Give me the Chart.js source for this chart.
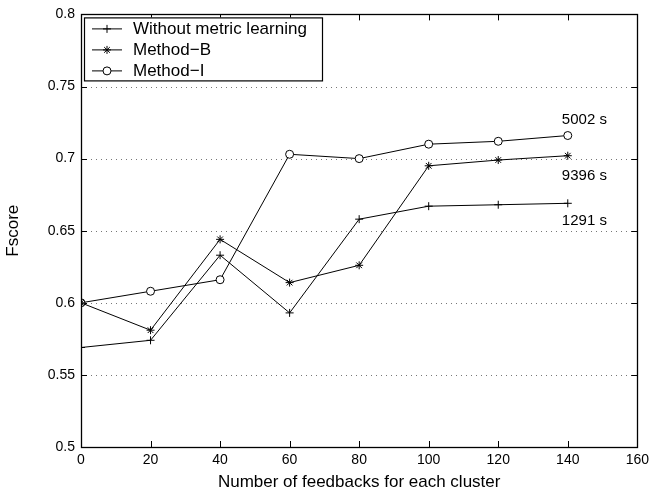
<!DOCTYPE html>
<html>
<head>
<meta charset="utf-8">
<script src="https://cdn.jsdelivr.net/npm/chart.js@4"></script>
<style>
  html, body { margin: 0; padding: 0; background: #fff; }
  #wrap { width: 654px; height: 501px; position: relative; }
</style>
</head>
<body>
<div id="wrap"><canvas id="fscore_chart" width="654" height="501"></canvas></div>
<script>
const feedbacks = [0, 20, 40, 60, 80, 100, 120, 140];
const without_metric = [0.569, 0.574, 0.633, 0.593, 0.658, 0.667, 0.668, 0.669];
const method_b = [0.600, 0.581, 0.644, 0.614, 0.626, 0.695, 0.699, 0.702];
const method_i = [0.600, 0.608, 0.616, 0.703, 0.700, 0.710, 0.712, 0.716];
const x_ticks = [0, 20, 40, 60, 80, 100, 120, 140, 160];
const y_ticks = [0.5, 0.55, 0.6, 0.65, 0.7, 0.75, 0.8];
const time_labels = ["5002 s", "9396 s", "1291 s"];
const time_pos = [[138.3, 0.727], [138.3, 0.688], [138.3, 0.657]];

const FONT = "'Liberation Sans', Arial, sans-serif";

function toPoints(ys) {
  return feedbacks.map((x, i) => ({ x: x, y: ys[i] }));
}

const series = [
  { label: "Without metric learning", data: without_metric, style: "cross", r: 4, fill: "#000" },
  { label: "Method\u2212B", data: method_b, style: "star", r: 4, fill: "#000" },
  { label: "Method\u2212I", data: method_i, style: "circle", r: 4, fill: "#fff" },
];

const frame_plugin = {
  id: "frame",
  beforeDatasetsDraw(chart) {
    const ctx = chart.ctx;
    const a = chart.chartArea;
    const xs = chart.scales.x, ys = chart.scales.y;
    ctx.save();
    // dotted horizontal grid
    ctx.strokeStyle = "#777";
    ctx.lineWidth = 1;
    ctx.setLineDash([1, 4]);
    y_ticks.forEach(v => {
      if (v <= 0.5 || v >= 0.8) return;
      const py = Math.round(ys.getPixelForValue(v)) + 0.5;
      ctx.beginPath();
      ctx.moveTo(a.left, py);
      ctx.lineTo(a.right, py);
      ctx.stroke();
    });
    ctx.setLineDash([]);
    ctx.strokeStyle = "#000";
    // inward ticks
    const tl = 6;
    x_ticks.forEach(v => {
      const px = Math.round(xs.getPixelForValue(v)) + 0.5;
      ctx.beginPath();
      ctx.moveTo(px, a.bottom); ctx.lineTo(px, a.bottom - tl);
      ctx.moveTo(px, a.top); ctx.lineTo(px, a.top + tl);
      ctx.stroke();
    });
    y_ticks.forEach(v => {
      const py = Math.round(ys.getPixelForValue(v)) + 0.5;
      ctx.beginPath();
      ctx.moveTo(a.left, py); ctx.lineTo(a.left + tl, py);
      ctx.moveTo(a.right, py); ctx.lineTo(a.right - tl, py);
      ctx.stroke();
    });
    ctx.restore();
  },
  afterDatasetsDraw(chart) {
    const ctx = chart.ctx;
    const a = chart.chartArea;
    const xs = chart.scales.x, ys = chart.scales.y;
    ctx.save();
    // box
    ctx.strokeStyle = "#000";
    ctx.lineWidth = 1.3;
    ctx.strokeRect(Math.round(a.left) + 0.5, Math.round(a.top) + 0.5,
      Math.round(a.right - a.left), Math.round(a.bottom - a.top));
    // time annotations
    ctx.fillStyle = "#000";
    ctx.font = "15px " + FONT;
    ctx.textBaseline = "middle";
    ctx.textAlign = "left";
    time_labels.forEach((t, i) => {
      ctx.fillText(t, xs.getPixelForValue(time_pos[i][0]), ys.getPixelForValue(time_pos[i][1]));
    });
    // legend
    const lx = a.left + 3, ly = a.top + 3, lw = 238, lh = 63;
    ctx.fillStyle = "#fff";
    ctx.fillRect(lx, ly, lw, lh);
    ctx.lineWidth = 1.2;
    ctx.strokeRect(lx + 0.5, ly + 0.5, lw, lh);
    ctx.font = "17px " + FONT;
    series.forEach((s, i) => {
      const cy = ly + 11 + i * 21;
      ctx.strokeStyle = "#000";
      ctx.lineWidth = 1;
      ctx.beginPath();
      ctx.moveTo(lx + 8, cy + 0.5);
      ctx.lineTo(lx + 38, cy + 0.5);
      ctx.stroke();
      ctx.fillStyle = s.fill;
      Chart.helpers.drawPoint(ctx, { pointStyle: s.style, radius: s.r, rotation: 0, borderWidth: 1 }, lx + 23, cy + 0.5);
      ctx.fillStyle = "#000";
      ctx.fillText(s.label, lx + 49, cy + 1);
    });
    ctx.restore();
  }
};

const fscore_chart = new Chart(document.getElementById("fscore_chart"), {
  type: "line",
  data: {
    datasets: series.map(s => ({
      label: s.label,
      data: toPoints(s.data),
      borderColor: "#000",
      borderWidth: 1,
      pointStyle: s.style,
      pointRadius: s.r,
      pointBorderColor: "#000",
      pointBackgroundColor: s.fill,
      pointBorderWidth: 1,
      tension: 0,
      fill: false,
    })),
  },
  options: {
    responsive: false,
    animation: false,
    layout: { padding: { top: 10, right: 14, left: 0, bottom: 0 } },
    plugins: { legend: { display: false }, tooltip: { enabled: false } },
    scales: {
      x: {
        type: "linear",
        min: 0, max: 160,
        afterBuildTicks: s => { s.ticks = x_ticks.map(v => ({ value: v })); },
        afterFit: s => { s.height = 54; },
        grid: { display: false, drawTicks: false },
        border: { display: false },
        ticks: { color: "#000", font: { size: 14, family: FONT }, padding: 5, maxRotation: 0, autoSkip: false },
        title: { display: true, text: "Number of feedbacks for each cluster", color: "#000",
                 font: { size: 17, family: FONT }, padding: { top: 4, bottom: 8 } },
      },
      y: {
        min: 0.5, max: 0.8,
        afterBuildTicks: s => { s.ticks = y_ticks.map(v => ({ value: v })); },
        afterFit: s => { s.width = 81; },
        grid: { display: false, drawTicks: false },
        border: { display: false },
        ticks: { color: "#000", font: { size: 14, family: FONT }, padding: 6,
                 callback: v => String(Math.round(v * 100) / 100) },
        title: { display: true, text: "Fscore", color: "#000",
                 font: { size: 17, family: FONT }, padding: { top: 3, bottom: 0 } },
      },
    },
  },
  plugins: [frame_plugin],
});
</script>
</body>
</html>
